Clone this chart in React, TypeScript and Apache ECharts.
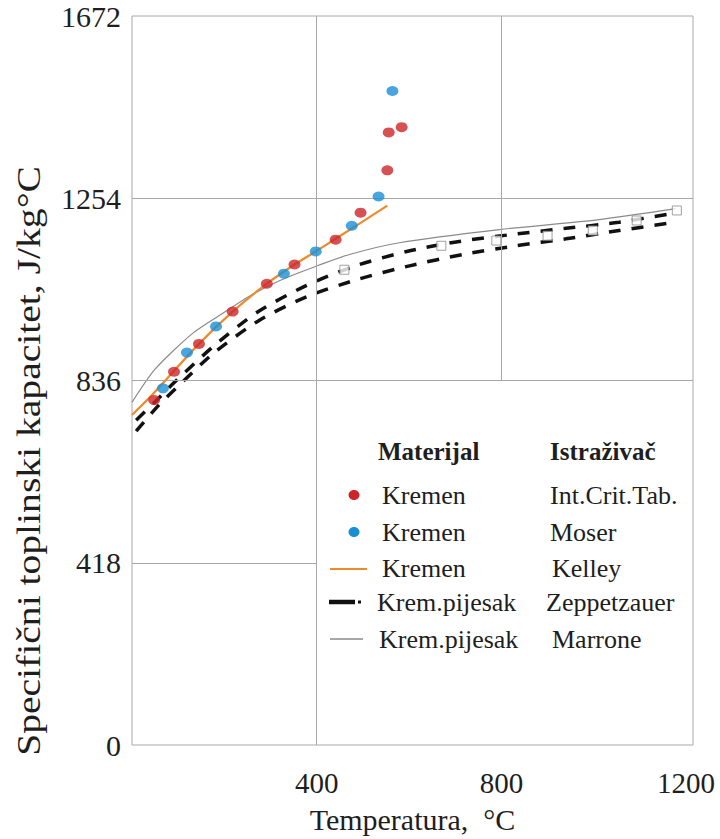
import React, { useEffect, useRef } from 'react';
import * as echarts from 'echarts';

// Int.Crit.Tab. (Kremen) – red points
const redT = [48, 91, 145, 218, 292, 352, 441, 495, 553, 556, 584];
const redC = [791, 856, 920, 994, 1058, 1102, 1159, 1221, 1318, 1405, 1417];

// Moser (Kremen) – blue points
const blueT = [67, 119, 182, 329, 398, 476, 534, 564];
const blueC = [818, 900, 960, 1081, 1132, 1191, 1258, 1500];

// Kelley (Kremen) – orange line
const kelleyT = [0, 39, 145, 218, 292, 352, 398, 441, 553];
const kelleyC = [757, 798, 920, 994, 1058, 1102, 1132, 1161, 1237];

// Marrone (Krem.pijesak) – thin grey line
const marroneT = [0, 50, 130, 195, 255, 324, 396, 471, 579, 796, 1012, 1178];
const marroneC = [786, 862, 943, 989, 1030, 1067, 1097, 1125, 1152, 1182, 1205, 1230];

// Zeppetzauer (Krem.pijesak) – dashed band (upper / lower)
const zeppUpperT = [9, 50, 93, 177, 272, 376, 478, 595, 709, 824, 940, 1055, 1170];
const zeppUpperC = [745, 787, 833, 915, 993, 1053, 1097, 1132, 1155, 1171, 1185, 1199, 1219];
const zeppLowerT = [9, 54, 93, 177, 277, 378, 486, 601, 716, 832, 940, 1055, 1170];
const zeppLowerC = [720, 775, 816, 899, 975, 1028, 1067, 1099, 1125, 1145, 1161, 1180, 1198];

// open squares
const squareT = [460, 670, 789, 900, 998, 1093, 1180];
const squareC = [1090, 1145, 1157, 1168, 1180, 1203, 1226];

// axes
const xMin = 0;
const xMax = 1215;
const xStep = 400;
const yMin = 0;
const yMax = 1672;
const yStep = 418;

// interior grid segments [x1, y1, x2, y2] in data units
const gridSegments = [
  [400, 0, 400, 1672],
  [800, 1672, 800, 836],
  [0, 1254, 1215, 1254],
  [0, 836, 1215, 836],
  [0, 418, 400, 418],
];

const legendHeaders = ['Materijal', 'Istraživač'];
const legendMaterial = ['Kremen', 'Kremen', 'Kremen', 'Krem.pijesak', 'Krem.pijesak'];
const legendResearcher = ['Int.Crit.Tab.', 'Moser', 'Kelley', 'Zeppetzauer', 'Marrone'];

const zip = (xs: number[], ys: number[]) => xs.map((x, i) => [x, ys[i]]);

const SERIF = 'Liberation Serif, Times New Roman, serif';
const TXT = '#1e1e1e';
const RED = '#cc2429';
const BLUE = '#1a8ed4';
const ORANGE = '#ee8a2c';
const GREY = '#8a8a8a';
const GRIDC = '#a8a8a8';

export default function App() {
  const ref = useRef<HTMLDivElement>(null);

  useEffect(() => {
    const chart = echarts.init(ref.current!, null, { renderer: 'svg' });

    const rowY = [495, 532, 568, 602, 639];
    const els: any[] = [];
    const txt = (x: number, y: number, s: string, size: number, bold = false) => ({
      type: 'text', x, y,
      style: {
        text: s,
        fontFamily: SERIF, fontSize: size, fontWeight: bold ? 'bold' : 'normal',
        fill: TXT, verticalAlign: 'middle', align: 'left',
      },
    });
    els.push(txt(378, 451, legendHeaders[0], 25, true));
    els.push(txt(550, 451, legendHeaders[1], 25, true));
    const matLeft = [382, 382, 382, 377, 379];
    const resLeft = [550, 550, 552, 546, 552];
    legendMaterial.forEach((m, i) => {
      els.push(txt(matLeft[i], rowY[i], m, 26));
      els.push(txt(resLeft[i], rowY[i], legendResearcher[i], 26));
    });
    els.push({ type: 'ellipse', shape: { cx: 354, cy: rowY[0], rx: 5.5, ry: 5 }, style: { fill: RED } });
    els.push({ type: 'ellipse', shape: { cx: 354, cy: rowY[1], rx: 5.5, ry: 5 }, style: { fill: BLUE } });
    els.push({ type: 'line', shape: { x1: 330, y1: rowY[2] + 1, x2: 367, y2: rowY[2] + 1 }, style: { stroke: ORANGE, lineWidth: 2.2 } });
    els.push({ type: 'line', shape: { x1: 329, y1: rowY[3], x2: 355, y2: rowY[3] }, style: { stroke: '#111', lineWidth: 4.5 } });
    els.push({ type: 'rect', shape: { x: 358, y: rowY[3] - 1.5, width: 3, height: 3 }, style: { fill: '#111' } });
    els.push({ type: 'line', shape: { x1: 330, y1: rowY[4], x2: 363, y2: rowY[4] }, style: { stroke: GREY, lineWidth: 1.3 } });

    els.push({
      type: 'text', x: 29, y: 461, rotation: Math.PI / 2, scaleX: 1.2,
      style: {
        text: 'Specifični toplinski kapacitet, J/kg°C',
        fontFamily: SERIF, fontSize: 33, fill: TXT, align: 'center', verticalAlign: 'middle',
      },
    });

    const smoothLine = { smooth: 0.25, showSymbol: false };

    chart.setOption({
      animation: false,
      backgroundColor: '#ffffff',
      textStyle: { fontFamily: SERIF },
      grid: {
        left: 132, right: 27, top: 16, bottom: 94,
        show: true, borderColor: GRIDC, borderWidth: 1, backgroundColor: 'transparent',
      },
      xAxis: {
        type: 'value', min: xMin, max: xMax, interval: xStep,
        name: 'Temperatura,  °C', nameLocation: 'middle', nameGap: 59,
        nameTextStyle: { fontSize: 30, color: TXT, fontFamily: SERIF },
        axisLine: { show: false }, axisTick: { show: false }, splitLine: { show: false },
        axisLabel: {
          fontSize: 29, color: TXT, fontFamily: SERIF, margin: 23,
          formatter: (v: number) => (v > 0 && v % xStep === 0 ? String(v) : ''),
        },
      },
      yAxis: {
        type: 'value', min: yMin, max: yMax, interval: yStep,
        axisLine: { show: false }, axisTick: { show: false }, splitLine: { show: false },
        axisLabel: {
          fontSize: 30, color: TXT, fontFamily: SERIF, margin: 11,
          formatter: (v: number) => String(v),
        },
      },
      graphic: els,
      series: [
        {
          type: 'line', name: 'grid', data: [], silent: true, z: 1,
          markLine: {
            silent: true, symbol: 'none', animation: false,
            label: { show: false },
            lineStyle: { color: GRIDC, width: 1, type: 'solid' },
            emphasis: { disabled: true },
            data: gridSegments.map((s) => [{ coord: [s[0], s[1]] }, { coord: [s[2], s[3]] }]),
          },
        },
        {
          type: 'line', name: 'Marrone', data: zip(marroneT, marroneC), ...smoothLine,
          lineStyle: { color: GREY, width: 1.2 }, z: 2,
        },
        {
          type: 'line', name: 'Zeppetzauer gornja', data: zip(zeppUpperT, zeppUpperC), ...smoothLine,
          lineStyle: { color: '#111', width: 3.5, type: [12, 11] }, z: 3,
        },
        {
          type: 'line', name: 'Zeppetzauer donja', data: zip(zeppLowerT, zeppLowerC), ...smoothLine,
          lineStyle: { color: '#111', width: 3.5, type: [12, 11] }, z: 3,
        },
        {
          type: 'scatter', name: 'Zeppetzauer točke', data: zip(squareT, squareC), symbol: 'rect',
          symbolSize: 9, itemStyle: { color: '#ffffff', borderColor: '#8a8a8a', borderWidth: 1 }, z: 4,
        },
        {
          type: 'line', name: 'Kelley', data: zip(kelleyT, kelleyC), ...smoothLine,
          lineStyle: { color: ORANGE, width: 2.2 }, z: 5,
        },
        {
          type: 'scatter', name: 'Int.Crit.Tab.', data: zip(redT, redC), symbol: 'circle',
          symbolSize: [12, 10], itemStyle: { color: RED }, z: 6,
        },
        {
          type: 'scatter', name: 'Moser', data: zip(blueT, blueC), symbol: 'circle',
          symbolSize: [12, 10], itemStyle: { color: BLUE }, z: 6,
        },
      ],
    });

    return () => chart.dispose();
  }, []);

  return (
    <div
      ref={ref}
      style={{ position: 'absolute', left: 0, top: 0, width: 720, height: 839, background: '#fff' }}
    />
  );
}
